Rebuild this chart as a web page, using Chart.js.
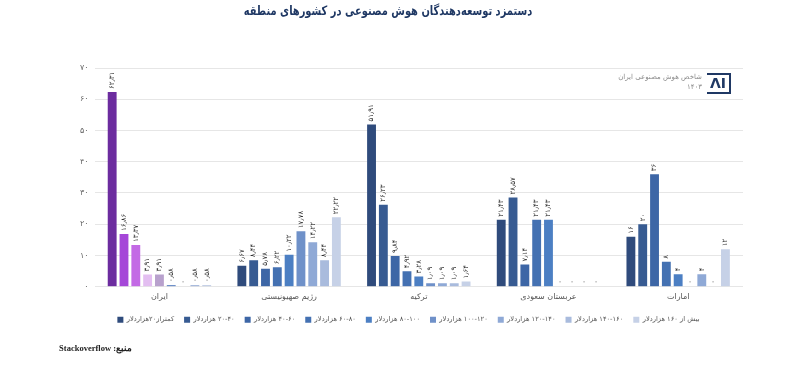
<!DOCTYPE html>
<html>
<head>
<meta charset="utf-8">
<script src="https://cdn.jsdelivr.net/npm/chart.js@4.4.1/dist/chart.umd.min.js"></script>
<style>
    body { margin: 0; background: #fff; font-family: "DejaVu Sans", sans-serif; }
    #wrap { position: relative; width: 800px; height: 373px; }
    #title { position: absolute; top: 3px; left: 188px; width: 400px; text-align: center; direction: rtl;
             font-size: 13px; font-weight: bold; color: #1f3864; transform: scaleX(0.76); }
    #source { position: absolute; top: 343px; left: 20px; width: 112px; text-align: right; direction: rtl;
              font-size: 8.5px; font-weight: bold; color: #222; font-family: "Liberation Serif", serif; }
    #brand { position: absolute; top: 72px; left: 590px; width: 112px; text-align: right; direction: rtl;
             font-size: 7px; color: #8a8a8a; line-height: 10px; }
    #logo { position: absolute; top: 73px; left: 707px; width: 22px; height: 17px; border: 2px solid #1f3864;
            border-left-width: 0; color: #1f3864; font-size: 14px; font-weight: bold; line-height: 17px;
            text-align: center; font-family: "DejaVu Sans", sans-serif; }
</style>
</head>
<body>
<div id="wrap">
    <canvas id="myCanvas" width="800" height="373" dir="rtl"></canvas>
    <div id="title">دستمزد توسعه‌دهندگان هوش مصنوعی در کشورهای منطقه</div>
    <div id="brand">شاخص هوش مصنوعی ایران<br>۱۴۰۳</div>
    <div id="logo">ΛI</div>
    <div id="source">منبع: Stackoverflow</div>
</div>
<script>
// countries (x categories)
var countries = ['ایران', 'رژیم صهیونیستی', 'ترکیه', 'عربستان سعودی', 'امارات'];

// salary bands (legend)
var bands = ['کمتراز۲۰هزاردلار', '۲۰-۴۰ هزاردلار', '۴۰-۶۰ هزاردلار', '۶۰-۸۰ هزاردلار', '۸۰-۱۰۰ هزاردلار',
             '۱۰۰-۱۲۰ هزاردلار', '۱۲۰-۱۴۰ هزاردلار', '۱۴۰-۱۶۰ هزاردلار', 'بیش از ۱۶۰ هزاردلار'];

// percent of developers per band, one array per country
var iran    = [62.31, 16.86, 13.37, 3.91, 3.91, 0.58, 0, 0.58, 0.58];
var israel  = [6.67, 8.44, 5.78, 6.22, 10.22, 17.78, 14.22, 8.44, 22.22];
var turkey  = [51.91, 26.23, 9.84, 4.92, 3.28, 1.09, 1.09, 1.09, 1.64];
var saudi   = [21.43, 28.57, 7.14, 21.43, 21.43, 0, 0, 0, 0];
var emirates = [16, 20, 36, 8, 4, 0, 4, 0, 12];

var yTicks = [0, 10, 20, 30, 40, 50, 60, 70];

var blues = ['#2f4b7c', '#375b92', '#3d66a6', '#4471b2', '#4c7fc3', '#6f91c9', '#8fa9d6', '#a9bbdd', '#c6d1e7'];
var purples = ['#6c2c9f', '#a547d8', '#c36ae5', '#e3bef1', '#b8a1cd', '#6f91c9', '#8fa9d6', '#a9bbdd', '#c6d1e7'];

function toFa(txt) {
    var fa = '۰۱۲۳۴۵۶۷۸۹';
    return String(txt).replace(/[0-9]/g, function (d) { return fa[d]; }).replace('.', '٫');
}

function buildDatasets() {
    var all = [iran, israel, turkey, saudi, emirates];
    var sets = [];
    for (var i = 0; i < bands.length; i++) {
        var vals = [];
        for (var c = 0; c < all.length; c++) {
            vals.push(all[c][i]);
        }
        sets.push({
            label: bands[i],
            data: vals,
            backgroundColor: (function (k) {
                return function (ctx) {
                    // Iran bars are purple, everything else blue
                    return (ctx.type === 'data' && ctx.dataIndex === 0) ? purples[k] : blues[k];
                };
            })(i),
            categoryPercentage: 0.82,
            barPercentage: 0.75
        });
    }
    return sets;
}

// vertical value labels on top of the bars
var valueLabels = {
    id: 'valueLabels',
    afterDatasetsDraw: function (chart) {
        var ctx = chart.ctx;
        ctx.save();
        ctx.font = '7px "DejaVu Sans"';
        ctx.fillStyle = '#2a2a2a';
        ctx.textAlign = 'left';
        ctx.textBaseline = 'middle';
        ctx.direction = 'ltr';
        chart.data.datasets.forEach(function (ds, i) {
            var meta = chart.getDatasetMeta(i);
            meta.data.forEach(function (bar, j) {
                ctx.save();
                ctx.translate(bar.x, bar.y - 3);
                ctx.rotate(-Math.PI / 2);
                ctx.fillText(toFa(ds.data[j]), 0, 0);
                ctx.restore();
            });
        });
        ctx.restore();
    }
};

var ctx = document.getElementById('myCanvas').getContext('2d');
var chart = new Chart(ctx, {
    type: 'bar',
    data: {
        labels: countries,
        datasets: buildDatasets()
    },
    options: {
        responsive: false,
        animation: false,
        devicePixelRatio: 1,
        layout: { padding: { left: 74, right: 57, top: 68, bottom: 40 } },
        plugins: {
            title: { display: false },
            tooltip: { enabled: false },
            legend: {
                position: 'bottom',
                labels: {
                    boxWidth: 6,
                    boxHeight: 6,
                    padding: 10,
                    color: '#555',
                    font: { family: 'DejaVu Sans', size: 6.7 },
                    generateLabels: function (chart) {
                        var items = Chart.defaults.plugins.legend.labels.generateLabels(chart);
                        items.forEach(function (it, i) {
                            it.fillStyle = blues[i];
                            it.strokeStyle = blues[i];
                            it.lineWidth = 0;
                        });
                        return items;
                    }
                }
            }
        },
        scales: {
            x: {
                grid: { display: false, drawTicks: false },
                border: { display: false },
                ticks: { color: '#555', padding: 5, font: { family: 'DejaVu Sans', size: 8 } }
            },
            y: {
                min: 0,
                max: 70,
                afterBuildTicks: function (axis) {
                    axis.ticks = yTicks.map(function (v) { return { value: v }; });
                },
                grid: { color: '#e6e6e6', drawTicks: false },
                border: { display: false },
                ticks: {
                    color: '#666',
                    padding: 6,
                    font: { family: 'DejaVu Sans', size: 8 },
                    callback: function (v) { return toFa(v); }
                }
            }
        }
    },
    plugins: [valueLabels]
});
</script>
</body>
</html>
